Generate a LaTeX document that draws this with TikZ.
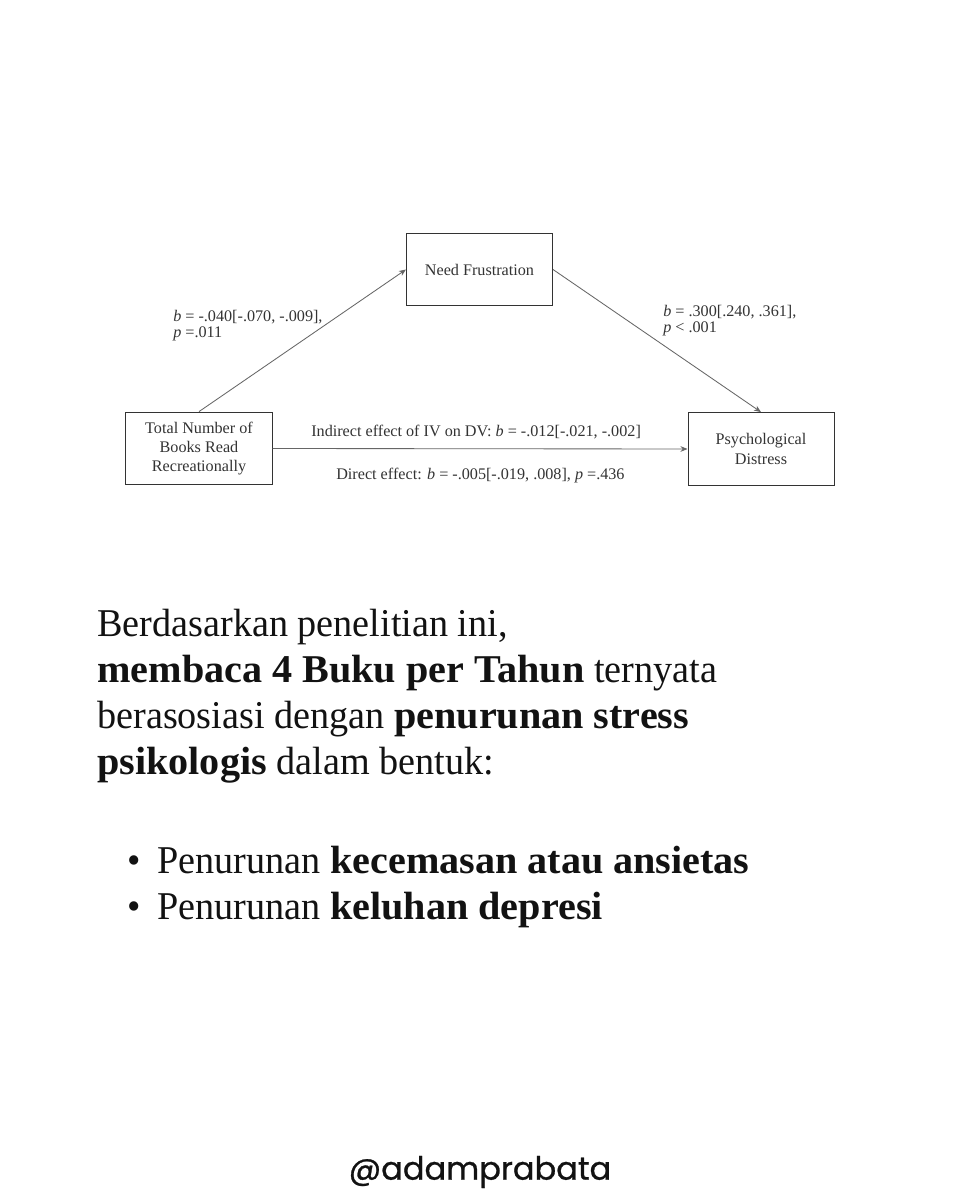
\documentclass[tikz,border=0pt]{standalone}
\usepackage{fontspec}
\usepackage{tikz}
\usetikzlibrary{arrows.meta, positioning}

\setmainfont{Liberation Serif}
\newfontfamily\bodyfont{Liberation Serif}[UprightFeatures={FakeStretch=0.97}, BoldFeatures={FakeStretch=1.02}]
\newfontfamily\handlefont{Poppins}[FakeBold=0.8]

\definecolor{boxline}{gray}{0.2}
\definecolor{arrowline}{gray}{0.4}
\definecolor{figtext}{gray}{0.2}
\definecolor{bodytext}{gray}{0.07}

\begin{document}
\begin{tikzpicture}[
    x=0.025cm, y=-0.025cm,
    varbox/.style={rectangle, draw=boxline, line width=0.7pt, minimum width=3.65cm, minimum height=1.82cm, align=center, text=figtext, font=\fontsize{11.5}{13.8}\selectfont},
    effect/.style={draw=arrowline, line width=0.6pt, -{Stealth[length=5pt, width=4pt]}},
    coef/.style={text=figtext, align=left, inner sep=0pt, font=\fontsize{11.5}{12}\selectfont},
    body/.style={text=bodytext, align=left, inner sep=0pt, font=\bodyfont\fontsize{28}{32.6}\selectfont}
]
\useasboundingbox[fill=white] (0,0) rectangle (960,1200);

% Variables
\node[varbox] (books) at (199,448.5) {Total Number of\\Books Read\\Recreationally};
\node[varbox] (need) at (479.5,269.5) {Need Frustration};
\node[varbox] (distress) at (761,449) {Psychological\\Distress};

% Paths
\draw[effect] (books.north) -- (need.west);
\draw[effect] (need.east) -- (distress.north);
\draw[effect] (books.east) -- (distress.west);

% Coefficients
\node[coef, anchor=base west] (apath) at (173,338) {\textit{b} = -.040[-.070, -.009],\\\textit{p} =.011};
\node[coef, anchor=base west] (bpath) at (663,333) {\textit{b} = .300[.240, .361],\\\textit{p} < .001};
\node[coef, anchor=base west] (indirect) at (311,436) {Indirect effect of IV on DV: \textit{b} = -.012[-.021, -.002]};
\node[coef, anchor=base west] (direct) at (336,479) {Direct effect: \textit{b} = -.005[-.019, .008], \textit{p} =.436};

% Text
\node[body, anchor=north west] (summary) at (97,609) {Berdasarkan penelitian ini,\\\textbf{membaca 4 Buku per Tahun} ternyata\\berasosiasi dengan \textbf{penurunan stress}\\\textbf{psikologis} dalam bentuk:};
\node[body, anchor=north west] (list) at (157,846) {\llap{\textbullet\hspace{12pt}}Penurunan \textbf{kecemasan atau ansietas}\\\llap{\textbullet\hspace{12pt}}Penurunan \textbf{keluhan depresi}};

% Handle
\node[text=bodytext, font=\handlefont\fontsize{22.8}{24}\selectfont] (handle) at (480,1172) {@adamprabata};

\end{tikzpicture}
\end{document}
